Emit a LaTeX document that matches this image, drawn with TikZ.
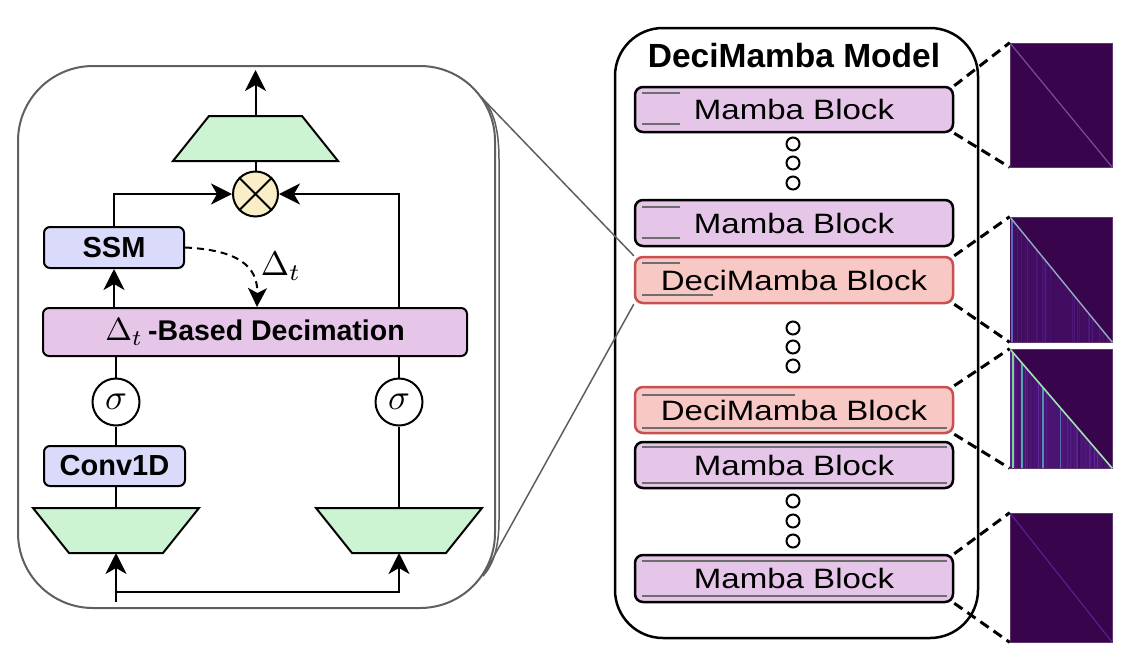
\RequirePackage{fix-cm}
\documentclass[tikz,border=0pt]{standalone}
\usepackage{fontspec}
\setmainfont{Liberation Sans}
\usepackage{graphicx}
\usetikzlibrary{arrows.meta,shapes.geometric,calc}

\definecolor{mambafill}{RGB}{230,198,232}
\definecolor{decifill}{RGB}{248,200,196}
\definecolor{deciedge}{RGB}{200,80,80}
\definecolor{ssmfill}{RGB}{218,218,250}
\definecolor{trapfill}{RGB}{204,244,210}
\definecolor{mulfill}{RGB}{250,238,198}
\definecolor{boxgray}{RGB}{95,95,95}
\definecolor{linegray}{RGB}{110,110,110}
\definecolor{hbg}{RGB}{56,4,76}
\definecolor{hpurple}{RGB}{100,45,170}
\definecolor{hteal}{RGB}{80,170,180}
\definecolor{hgreen}{RGB}{120,215,140}

\newcommand\widetext[1]{\scalebox{1.18}[1]{#1}}
\newcommand\bigmath[2]{{\normalsize\scalebox{#1}{$#2$}}}

\begin{document}
\begin{tikzpicture}[x=1pt,y=-1pt,
  mblock/.style={draw=black, line width=2.5pt, fill=mambafill, rounded corners=8pt,
    minimum width=318pt, minimum height=45pt, inner sep=0pt, font=\fontsize{28}{30}\selectfont},
  dblock/.style={mblock, draw=deciedge, fill=decifill},
  gline/.style={draw=linegray, line width=2pt},
  sbox/.style={draw=black, line width=2pt, fill=ssmfill, rounded corners=6pt, inner sep=0pt,
    font=\bfseries\fontsize{29}{31}\selectfont},
  trap/.style={draw=black, line width=2pt, fill=trapfill, line join=miter},
  sig/.style={circle, draw=black, line width=2pt, fill=white, minimum size=47pt, inner sep=0pt},
  arr/.style={line width=2pt, -{Stealth[length=21pt,width=21pt,inset=6pt]}},
  dline/.style={line width=3pt, dash pattern=on 10pt off 6pt},
  dotc/.style={draw=black, line width=2pt, fill=white},
  heat/.style={fill=hbg, draw=hbg!80!white, line width=0.6pt, inner sep=0pt, minimum width=102pt}
]
\useasboundingbox (0,0) rectangle (1124,667);
\fill[white] (0,0) rectangle (1124,667);

% ---------------- left panel ----------------
\node[draw=boxgray, line width=2pt, rounded corners=75pt, minimum width=477pt,
      minimum height=542pt, inner sep=0pt] (lpanel) at (256.5,337) {};
\coordinate (zt) at (481,97);
\coordinate (zb) at (483,576);
\draw[boxgray, line width=1.5pt] (zt) .. controls (492,108) and (499,125) .. (499,160)
   -- (499,520) .. controls (499,548) and (493,565) .. (zb);

% trapezoids (drawn as shapes, with named ends)
\draw[trap] (209,116) -- (302,116) -- (338,161) -- (173,161) -- cycle;
\coordinate (ttopN) at (255.5,116);
\coordinate (ttopS) at (255.5,161);
\draw[trap] (33,508) -- (199,508) -- (163,553) -- (69,553) -- cycle;
\coordinate (tlN) at (116,508);
\coordinate (tlS) at (116,553);
\draw[trap] (316,508) -- (482,508) -- (446,553) -- (352,553) -- cycle;
\coordinate (trN) at (399,508);
\coordinate (trS) at (399,553);

\node[circle, draw=black, line width=2pt, fill=mulfill, minimum size=45pt, inner sep=0pt] (mul) at (255.5,194) {};
\draw[line width=2pt] (mul.north west) -- (mul.south east) (mul.north east) -- (mul.south west);
\coordinate (out) at (255.5,70);
\draw[arr] (ttopN) -- (out);
\draw[line width=2pt] (mul.north) -- (ttopS);

\node[sbox, minimum width=140pt, minimum height=41pt] (ssm) at (114,247.5) {SSM};
\node[draw=black, line width=2pt, fill=mambafill, rounded corners=6pt, inner sep=0pt,
      minimum width=424pt, minimum height=48pt,
      font=\bfseries\fontsize{28.5}{30}\selectfont] (dec) at (255,332)
      {\bigmath{3.2}{\Delta_t}\hspace{5pt}-Based Decimation\hspace{27pt}};
\node[sig] (sigL) at (116,402) {\bigmath{3.6}{\sigma}};
\node[sig] (sigR) at (399,402) {\bigmath{3.6}{\sigma}};
\node[sbox, minimum width=141pt, minimum height=40pt] (conv) at (114.5,466) {Conv1D};

% connectors left column
\draw[arr] (ssm.south |- dec.north) -- (ssm.south);
\draw[arr] (ssm.north) |- (mul.west);
\draw[line width=2pt] (dec.south -| sigL.north) -- (sigL.north);
\draw[line width=2pt] (sigL.south) -- (conv.north -| sigL.south);
\draw[line width=2pt] (conv.south -| tlN) -- (tlN);
% right column
\draw[arr] (sigR |- dec.north) |- (mul.east);
\draw[line width=2pt] (dec.south -| sigR.north) -- (sigR.north);
\draw[line width=2pt] (sigR.south) -- (trN);
% inputs
\coordinate (in) at (116,602);
\coordinate (split) at (116,592);
\draw[arr] (in) -- (tlS);
\draw[arr] (split) -| (trS);
% dashed delta arrow
\coordinate (dtip) at ($(dec.north west)+(215,0)$);
\draw[line width=2pt, dash pattern=on 7pt off 5pt, -{Stealth[length=19pt,width=19pt,inset=5pt]}]
   (ssm.east) .. controls (238,250) and (258,266) .. (dtip);
\node[inner sep=0pt] (dlab) at (281,266) {\bigmath{3.4}{\Delta_t}};

% ---------------- right panel ----------------
\node[draw=black, line width=2.5pt, rounded corners=48pt, minimum width=363pt,
      minimum height=610pt, inner sep=0pt] (rpanel) at (796.5,333) {};
\node[font=\bfseries\fontsize{33.5}{35}\selectfont, anchor=base] (title) at (794,67) {DeciMamba Model};

\node[mblock] (m1) at (794,109.5) {\widetext{Mamba Block}};
\node[mblock, minimum height=46pt] (m2) at (794,223) {\widetext{Mamba Block}};
\node[dblock, minimum height=46pt] (d1) at (794,280) {\widetext{DeciMamba Block}};
\node[dblock, minimum height=46pt] (d2) at (794,410) {\widetext{DeciMamba Block}};
\node[mblock, minimum height=46pt] (m3) at (794,465) {\widetext{Mamba Block}};
\node[mblock, minimum height=47pt] (m4) at (794,578.5) {\widetext{Mamba Block}};

% grey strokes inside blocks
\draw[gline] (642,93) -- (680,93) (642,124) -- (680,124);
\draw[gline] (642,207) -- (680,207) (642,238) -- (680,238);
\draw[gline] (642,263) -- (680,263) (642,295) -- (713,295);
\draw[gline] (642,395) -- (795,395) (642,428) -- (947,428);
\draw[gline] (642,447) -- (947,447) (642,483) -- (947,483);
\draw[gline] (642,561) -- (947,561) (642,596) -- (947,596);

% dots
\foreach \yy in {144,163,183,328,347,366,501,521,541}
  \draw[dotc] (793,\yy) circle (6.5pt);

% ---------------- heat maps ----------------
\node[heat, minimum height=124pt] (h1) at (1061,105) {};
\node[heat, minimum height=125pt] (h2) at (1061,279.5) {};
\node[heat, minimum height=119pt] (h3) at (1061,408.5) {};
\node[heat, minimum height=129pt] (h4) at (1061,577.5) {};

% h1
\draw[line width=1.2pt, hpurple!70!white, opacity=0.7] (h1.north west) -- (h1.south east);
% h2
\begin{scope}
  \clip (h2.north west) -- (h2.south west) -- (h2.south east) -- cycle;
  \fill[hpurple!22!hbg] (h2.north west) rectangle (h2.south east);
  \pgfmathsetseed{7}
  \foreach \k in {1,...,45}{
    \pgfmathsetmacro{\xx}{1010+102*rnd}
    \pgfmathtruncatemacro{\cc}{10+45*rnd}
    \draw[line width=0.8pt, hpurple!\cc!hbg] (\xx,217) -- (\xx,342);
  }
  \draw[line width=1.5pt, hteal!50!hpurple] (1012,217) -- (1012,342);
\end{scope}
\draw[line width=1.4pt, hteal!50!white, opacity=0.8] (h2.north west) -- (h2.south east);
% h3
\begin{scope}
  \clip (h3.north west) -- (h3.south west) -- (h3.south east) -- cycle;
  \fill[hpurple!40!hbg] (h3.north west) rectangle (h3.south east);
  \pgfmathsetseed{11}
  \foreach \k in {1,...,70}{
    \pgfmathsetmacro{\xx}{1010+102*rnd}
    \pgfmathtruncatemacro{\cc}{20+70*rnd}
    \draw[line width=0.9pt, hpurple!\cc!hbg] (\xx,349) -- (\xx,468);
  }
  \draw[line width=2pt, hgreen] (1013,349) -- (1013,468);
  \draw[line width=2pt, hteal] (1022,349) -- (1022,468);
  \draw[line width=1.5pt, hteal!80!hpurple] (1043,349) -- (1043,468);
  \draw[line width=1pt, hteal!50!hpurple] (1060,349) -- (1060,468);
\end{scope}
\draw[line width=1.6pt, hgreen!70!white] (h3.north west) -- (h3.south east);
% h4
\draw[line width=1pt, hpurple!80!hbg] (h4.north west) -- (h4.south east);

% dashed links
\draw[dline] (m1.north east) -- (h1.north west);
\draw[dline] (m1.south east) -- (h1.south west);
\draw[dline] (d1.north east) -- (h2.north west);
\draw[dline] (d1.south east) -- (h2.south west);
\draw[dline] (d2.north east) -- (h3.north west);
\draw[dline] (d2.south east) -- (h3.south west);
\draw[dline] (m4.north east) -- (h4.north west);
\draw[dline] (m4.south east) -- (h4.south west);

% zoom lines
\draw[boxgray, line width=1.5pt] (zt) -- (d1.north west);
\draw[boxgray, line width=1.5pt] (zb) -- (d1.south west);
\end{tikzpicture}
\end{document}
